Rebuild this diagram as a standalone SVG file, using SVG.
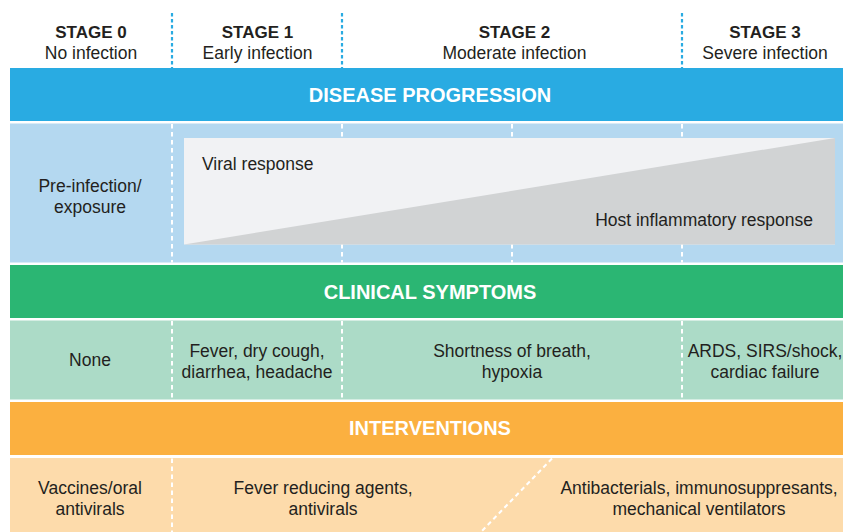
<svg xmlns="http://www.w3.org/2000/svg" width="843" height="532" viewBox="0 0 843 532">
  <style>
    .stage { font-family: "Liberation Sans", Arial, sans-serif; font-size: 17px; font-weight: bold; fill: #231f20; text-anchor: middle; }
    .sub { font-family: "Liberation Sans", Arial, sans-serif; font-size: 17.5px; fill: #231f20; text-anchor: middle; }
    .title { font-family: "Liberation Sans", Arial, sans-serif; font-size: 20px; font-weight: bold; fill: #ffffff; text-anchor: middle; }
    .body { font-family: "Liberation Sans", Arial, sans-serif; font-size: 17.5px; fill: #231f20; text-anchor: middle; }
    .hdash { stroke: #29abe2; stroke-width: 2.2; stroke-dasharray: 3.5 2.5; fill: none; }
    .wdash { stroke: #ffffff; stroke-width: 2; stroke-dasharray: 4.5 3.5; fill: none; }
  </style>
  <rect x="0" y="0" width="843" height="532" fill="#ffffff"/>

  <g id="band-disease-progression">
    <rect x="10" y="68" width="833" height="53" fill="#29abe2"/>
    <text class="title" x="430" y="102">DISEASE PROGRESSION</text>
  </g>
  <g id="row-disease">
    <rect x="10" y="123.5" width="833" height="139" fill="#b4d8f0"/>
  </g>
  <g id="band-clinical-symptoms">
    <rect x="10" y="265" width="833" height="53" fill="#2bb673"/>
    <text class="title" x="430" y="298.5">CLINICAL SYMPTOMS</text>
  </g>
  <g id="row-symptoms">
    <rect x="10" y="320.5" width="833" height="79" fill="#acdbc7"/>
  </g>
  <g id="band-interventions">
    <rect x="10" y="402" width="833" height="53" fill="#fbb040"/>
    <text class="title" x="430" y="435">INTERVENTIONS</text>
  </g>
  <g id="row-interventions">
    <rect x="10" y="458" width="833" height="74" fill="#fddbab"/>
  </g>

  <g id="connectors">
    <line class="hdash" x1="172" y1="13" x2="172" y2="68"/>
    <line class="hdash" x1="342" y1="13" x2="342" y2="68"/>
    <line class="hdash" x1="682" y1="13" x2="682" y2="68"/>
    <line class="wdash" x1="172" y1="124" x2="172" y2="262.5"/>
    <line class="wdash" x1="342" y1="124" x2="342" y2="262.5"/>
    <line class="wdash" x1="512" y1="124" x2="512" y2="262.5"/>
    <line class="wdash" x1="682" y1="124" x2="682" y2="262.5"/>
    <line class="wdash" x1="172" y1="321" x2="172" y2="399.5"/>
    <line class="wdash" x1="342" y1="321" x2="342" y2="399.5"/>
    <line class="wdash" x1="682" y1="321" x2="682" y2="399.5"/>
    <line class="wdash" x1="172" y1="458.5" x2="172" y2="532"/>
    <line class="wdash" x1="552" y1="458.5" x2="481" y2="532"/>
  </g>

  <g id="stage-0">
    <text class="stage" x="91" y="38">STAGE 0</text>
    <text class="sub" x="91" y="58.5">No infection</text>
  </g>
  <g id="stage-1">
    <text class="stage" x="257.5" y="38">STAGE 1</text>
    <text class="sub" x="257.5" y="58.5">Early infection</text>
  </g>
  <g id="stage-2">
    <text class="stage" x="514.5" y="38">STAGE 2</text>
    <text class="sub" x="514.5" y="58.5">Moderate infection</text>
  </g>
  <g id="stage-3">
    <text class="stage" x="765" y="38">STAGE 3</text>
    <text class="sub" x="765" y="58.5">Severe infection</text>
  </g>

  <g id="pre-infection">
    <text class="body" x="90" y="192">Pre-infection/</text>
    <text class="body" x="90" y="212.5">exposure</text>
  </g>
  <g id="response-chart">
    <rect x="184" y="138" width="651" height="106.5" fill="#f1f2f4"/>
    <polygon points="184,244.5 835,138 835,244.5" fill="#d1d3d4"/>
    <text class="body" x="202" y="170" text-anchor="start" style="text-anchor:start">Viral response</text>
    <text class="body" x="813" y="226" style="text-anchor:end">Host inflammatory response</text>
  </g>

  <g id="symptom-none">
    <text class="body" x="90" y="366">None</text>
  </g>
  <g id="symptom-early">
    <text class="body" x="257" y="356.5">Fever, dry cough,</text>
    <text class="body" x="257" y="377.5">diarrhea, headache</text>
  </g>
  <g id="symptom-moderate">
    <text class="body" x="512" y="356.5">Shortness of breath,</text>
    <text class="body" x="512" y="377.5">hypoxia</text>
  </g>
  <g id="symptom-severe">
    <text class="body" x="765" y="356.5">ARDS, SIRS/shock,</text>
    <text class="body" x="765" y="377.5">cardiac failure</text>
  </g>

  <g id="intervention-0">
    <text class="body" x="90" y="494">Vaccines/oral</text>
    <text class="body" x="90" y="514.5">antivirals</text>
  </g>
  <g id="intervention-1">
    <text class="body" x="323" y="494">Fever reducing agents,</text>
    <text class="body" x="323" y="514.5">antivirals</text>
  </g>
  <g id="intervention-2">
    <text class="body" x="699" y="494">Antibacterials, immunosuppresants,</text>
    <text class="body" x="699" y="514.5">mechanical ventilators</text>
  </g>
</svg>
